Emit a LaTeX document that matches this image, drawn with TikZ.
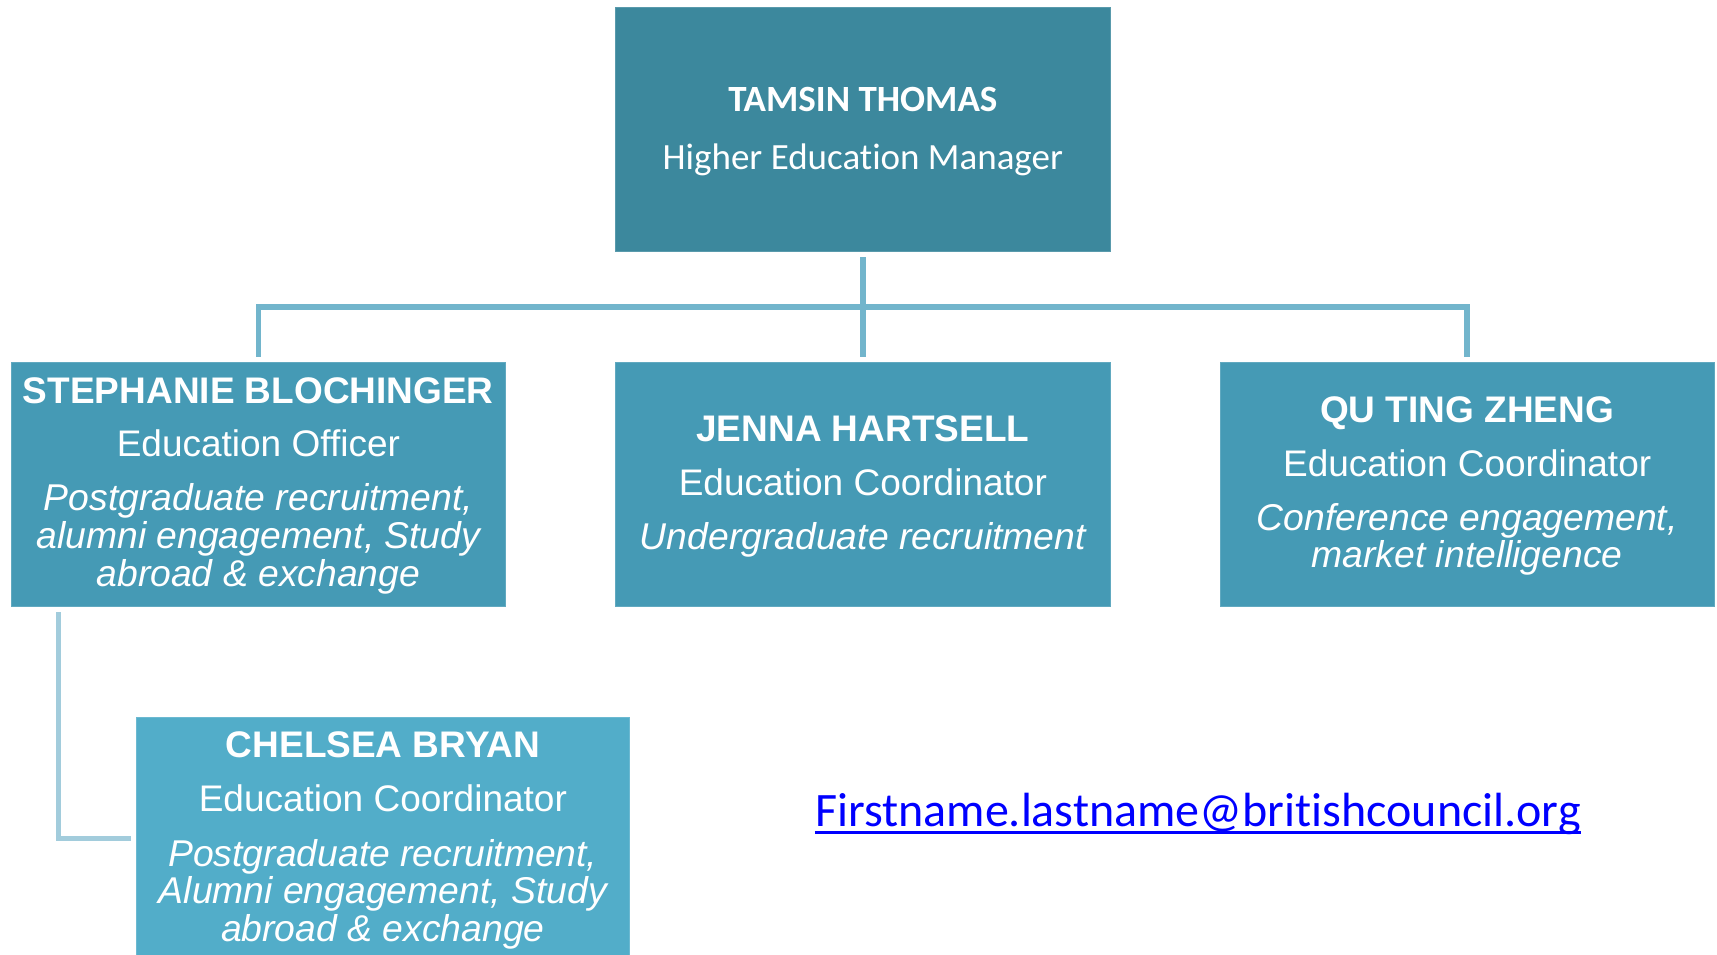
\documentclass[tikz,border=0pt]{standalone}
\usepackage{fontspec}
\setmainfont{Liberation Sans}
\newfontfamily\calib[Ligatures={NoCommon}]{Carlito}
\usetikzlibrary{calc}
\definecolor{topfill}{RGB}{60,136,157}
\definecolor{midfill}{RGB}{69,154,181}
\definecolor{lowfill}{RGB}{82,173,201}
\definecolor{linkcol}{RGB}{114,181,204}
\definecolor{linklight}{RGB}{162,204,220}
\definecolor{mailblue}{RGB}{0,0,255}
\tikzset{
  box/.style={rectangle, inner sep=0pt, outer sep=0pt, draw=#1!85!white, line width=0.8pt, fill=#1},
  nameline/.style={anchor=base, inner sep=0pt, text=white, font=\fontsize{37}{38}\selectfont\bfseries},
  roleline/.style={anchor=base, inner sep=0pt, text=white, font=\fontsize{37}{38}\selectfont},
  dutyline/.style={anchor=base, inner sep=0pt, text=white, font=\fontsize{37.3}{38}\selectfont\itshape},
  topname/.style={anchor=base, inner sep=0pt, text=white, font=\calib\fontsize{37}{38}\selectfont\bfseries},
  toprole/.style={anchor=base, inner sep=0pt, text=white, font=\calib\fontsize{37}{38}\selectfont},
  link/.style={draw=linkcol, line width=5.5pt, line join=miter},
  linklow/.style={draw=linklight, line width=5pt, line join=miter},
}
\begin{document}
\begin{tikzpicture}[x=1pt, y=-1pt]
\useasboundingbox[fill=white] (0,0) rectangle (1717,955);

% boxes
\node[box=topfill, minimum width=494.3pt, minimum height=244.4pt] (top) at (862.85,129.5) {};
\node[box=midfill, minimum width=494.7pt, minimum height=243.7pt] (steph) at (258.35,484.15) {};
\node[box=midfill, minimum width=494.3pt, minimum height=243.7pt] (jenna) at (862.85,484.15) {};
\node[box=midfill, minimum width=494.3pt, minimum height=243.7pt] (qu) at (1467.15,484.15) {};
\node[box=lowfill, minimum width=493.7pt, minimum height=240pt] (chel) at (382.85,837) {};

% texts: top
\node[topname] (t1) at (862.85,111.7) {TAMSIN THOMAS};
\node[toprole] (t2) at (862.85,170) {Higher Education Manager};

% Stephanie
\node[nameline] (s1) at (258.35,403.3) {STEPHANIE BLOCHINGER};
\node[roleline] (s2) at (258.35,456.7) {Education Officer};
\node[dutyline] (s3) at (258.35,510) {Postgraduate recruitment,};
\node[dutyline] (s4) at (258.35,548.3) {alumni engagement, Study};
\node[dutyline] (s5) at (258.35,586) {abroad \& exchange};

% Jenna
\node[nameline] (j1) at (862.85,441.7) {JENNA HARTSELL};
\node[roleline] (j2) at (862.85,495.7) {Education Coordinator};
\node[dutyline] (j3) at (862.85,549.3) {Undergraduate recruitment};

% Qu Ting
\node[nameline] (q1) at (1467.15,422.7) {QU TING ZHENG};
\node[roleline] (q2) at (1467.15,476.7) {Education Coordinator};
\node[dutyline] (q3) at (1467.15,530) {Conference engagement,};
\node[dutyline] (q4) at (1467.15,567.3) {market intelligence};

% Chelsea
\node[nameline] (c1) at (382.85,757.7) {CHELSEA BRYAN};
\node[roleline] (c2) at (382.85,811.7) {Education Coordinator};
\node[dutyline] (c3) at (382.85,866.7) {Postgraduate recruitment,};
\node[dutyline] (c4) at (382.85,903.3) {Alumni engagement, Study};
\node[dutyline] (c5) at (382.85,941.7) {abroad \& exchange};

% email
\node[anchor=base, inner sep=0pt, text=mailblue, font=\calib\fontsize{48}{50}\selectfont] (mail) at (1198,826.7) {Firstname.lastname@britishcouncil.org};
\draw[mailblue, line width=2.5pt] ($(mail.base west)+(0,6)$) -- ($(mail.base east)+(0,6)$);

% connectors
\coordinate (topdrop) at ($(top.south)+(0,5.3)$);
\coordinate (bar) at ($(top.south)+(0,55.3)$);
\coordinate (jennatop) at ($(jenna.north)+(0,-5.6)$);
\coordinate (stephtop) at ($(steph.north)+(0,-5.6)$);
\coordinate (qutop) at ($(qu.north)+(0,-5.6)$);
\draw[link] (topdrop) -- (jennatop);
\draw[link] (stephtop) |- (bar) -| (qutop);

\coordinate (stephdrop) at ($(steph.south west)+(47.5,6)$);
\coordinate (chelin) at ($(chel.west)+(-5.3,1.7)$);
\draw[linklow] (stephdrop) |- (chelin);
\end{tikzpicture}
\end{document}
